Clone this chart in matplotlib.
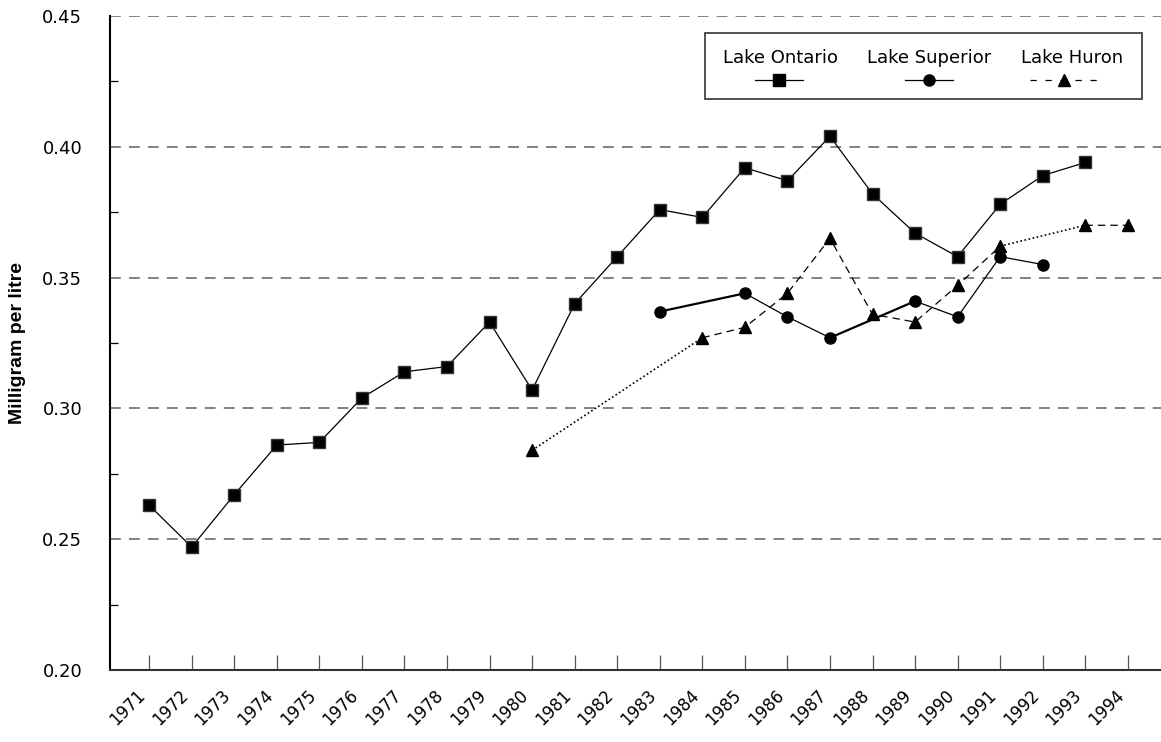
import matplotlib
matplotlib.use('Agg')

import matplotlib.pyplot as plt
import numpy as np
from matplotlib.lines import Line2D
from matplotlib.patches import Rectangle

# 年份
years = list(range(1971, 1995))

# 数据（毫克/升），缺测用 None
ontario = [0.263, 0.247, 0.267, 0.286, 0.287, 0.304, 0.314, 0.316, 0.333, 0.307,
           0.340, 0.358, 0.376, 0.373, 0.392, 0.387, 0.404, 0.382, 0.367, 0.358,
           0.378, 0.389, 0.394, None]
superior = [None, None, None, None, None, None, None, None, None, None,
            None, None, 0.337, None, 0.344, 0.335, 0.327, None, 0.341, 0.335,
            0.358, 0.355, None, None]
huron = [None, None, None, None, None, None, None, None, None, 0.284,
         None, None, None, 0.327, 0.331, 0.344, 0.365, 0.336, 0.333, 0.347,
         0.362, None, 0.370, 0.370]

series_names = ['Lake Ontario', 'Lake Superior', 'Lake Huron']
y_ticks = [0.20, 0.25, 0.30, 0.35, 0.40, 0.45]


def to_arr(vals):
    return np.array([np.nan if v is None else v for v in vals], dtype=float)


def gap_segments(x, y):
    # 找出跨越缺测值的相邻有效点
    idx = [i for i in range(len(y)) if not np.isnan(y[i])]
    segs = []
    for a, b in zip(idx[:-1], idx[1:]):
        if b - a > 1:
            segs.append(([x[a], x[b]], [y[a], y[b]]))
    return segs


x = np.array(years)
y_on = to_arr(ontario)
y_su = to_arr(superior)
y_hu = to_arr(huron)

fig = plt.figure(figsize=(11.61, 7.42), dpi=100)
ax = fig.add_axes([110 / 1161, 1 - 670 / 742, 1 - 110 / 1161, (670 - 16) / 742])

# 网格
for v in y_ticks:
    ax.axhline(v, color='#777777', linestyle=(0, (6, 4.5)), linewidth=1.3, zorder=0)

# Lake Ontario
ax.plot(x, y_on, color='black', linewidth=0.9, marker='s', markersize=8.5,
        markerfacecolor='black', markeredgecolor='#333333', zorder=3)

# Lake Superior
ax.plot(x, y_su, color='black', linewidth=0.9, marker='o', markersize=8,
        markerfacecolor='black', zorder=3)
for sx, sy in gap_segments(x, y_su):
    ax.plot(sx, sy, color='black', linewidth=1.6, zorder=2)

# Lake Huron
ax.plot(x, y_hu, color='black', linewidth=0.9, linestyle=(0, (6, 4)), marker='^',
        markersize=8.5, markerfacecolor='black', zorder=3)
for hx, hy in gap_segments(x, y_hu):
    ax.plot(hx, hy, color='black', linewidth=1.2, linestyle=(0, (1, 1.5)), zorder=2)

# 坐标轴
ax.set_xlim(1970.08, 1994.78)
ax.set_ylim(0.20, 0.45)
ax.set_xticks(years)
ax.set_xticklabels([str(y) for y in years], rotation=45, ha='right',
                   fontsize=12, family='DejaVu Sans')
ax.tick_params(axis='x', direction='in', length=11, width=0.9, color='#555555', pad=12)
ax.set_yticks(y_ticks)
ax.set_yticklabels([f'{v:.2f}' for v in y_ticks], fontsize=13, family='DejaVu Sans')
ax.set_yticks([0.225, 0.275, 0.325, 0.375, 0.425], minor=True)
ax.tick_params(axis='y', which='major', length=0, pad=20)
ax.tick_params(axis='y', which='minor', direction='in', length=6, width=0.9)

for s in ['top', 'right']:
    ax.spines[s].set_visible(False)
ax.spines['left'].set_linewidth(1.5)
ax.spines['bottom'].set_linewidth(1.5)
ax.spines['bottom'].set_color('#333333')

ax.set_ylabel('Milligram per litre', fontsize=14, fontweight='bold',
              family=['Liberation Sans Narrow', 'Liberation Sans', 'DejaVu Sans'])
ax.yaxis.set_label_coords(-84 / 1051, 0.5)

# 图例（文字在上，样例在下）
ax.add_patch(Rectangle((0.566, 0.873), 0.416, 0.101, transform=ax.transAxes,
                       facecolor='white', edgecolor='#333333', linewidth=1.2, zorder=5))
text_x = [0.6375, 0.779, 0.915]
samples = [
    dict(x0=0.6137, x1=0.6594, marker='s', ls='-', ms=8.5),
    dict(x0=0.7565, x1=0.8022, marker='o', ls='-', ms=8),
    dict(x0=0.8756, x1=0.9403, marker='^', ls=(0, (5, 7)), ms=8.5),
]
for name, tx, smp in zip(series_names, text_x, samples):
    ax.text(tx, 0.936, name, transform=ax.transAxes, ha='center', va='center',
            fontsize=13, family='DejaVu Sans', zorder=6)
    ax.add_line(Line2D([smp['x0'], smp['x1']], [0.902, 0.902], transform=ax.transAxes,
                       color='black', linewidth=0.9, linestyle=smp['ls'], zorder=6))
    ax.add_line(Line2D([(smp['x0'] + smp['x1']) / 2], [0.902], transform=ax.transAxes,
                       color='black', marker=smp['marker'], markersize=smp['ms'],
                       linestyle='none', zorder=7))

fig.savefig('out.png', dpi=100)
